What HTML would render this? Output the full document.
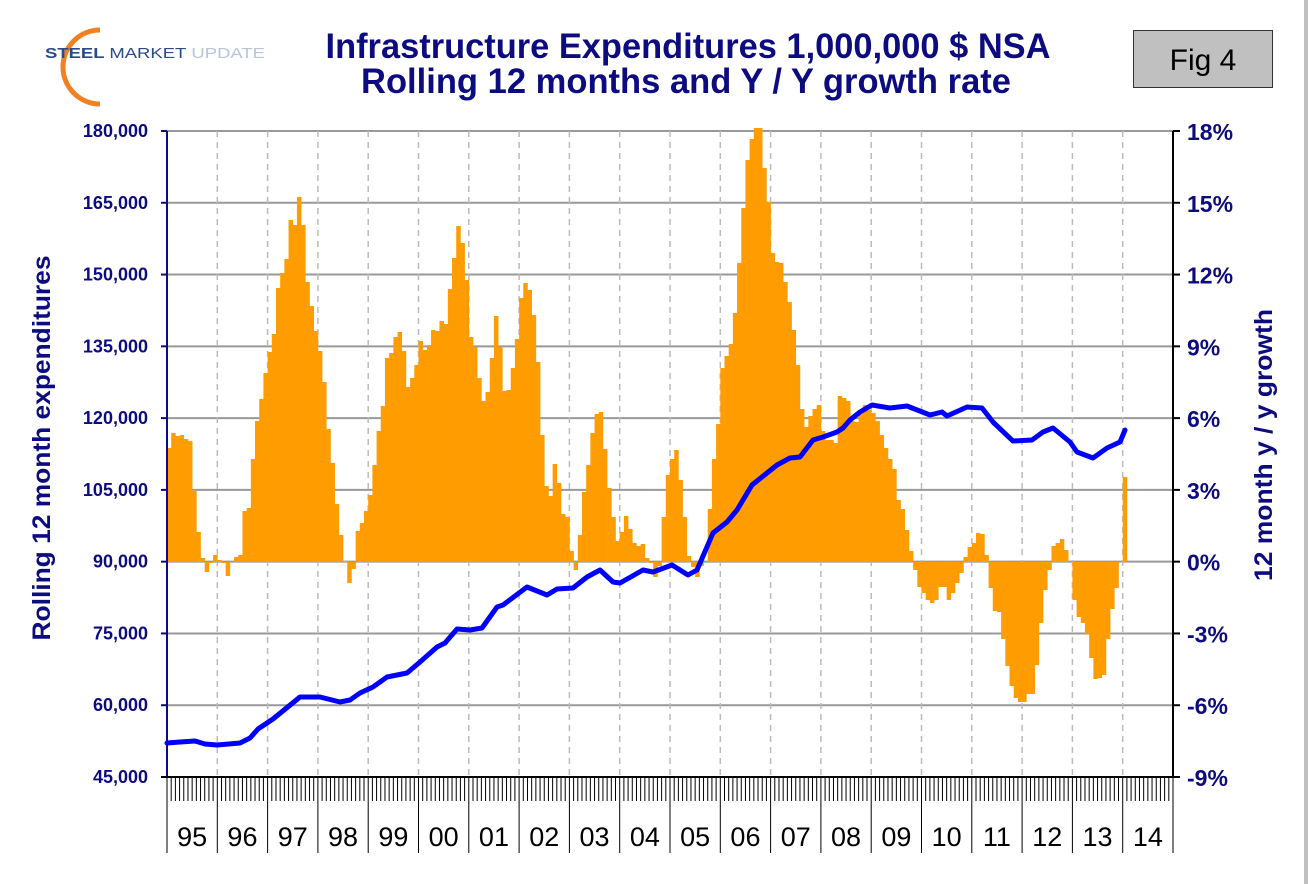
<!DOCTYPE html>
<html><head><meta charset="utf-8"><style>
html,body{margin:0;padding:0;background:#fff;}
svg{display:block;font-family:"Liberation Sans",Arial,sans-serif;}
</style></head><body>
<svg id="s" width="1308" height="884" viewBox="0 0 1308 884" xmlns="http://www.w3.org/2000/svg">
<rect x="0" y="0" width="1308" height="884" fill="#fff"/>
<rect x="1304" y="0" width="4" height="884" fill="#c0c0c0"/>
<path d="M100,30 A36,36 0 0 0 100,104" fill="none" stroke="#f08020" stroke-width="5"/>
<text x="45" y="58" font-size="15" font-weight="bold" fill="#2a4a8a" textLength="220" lengthAdjust="spacingAndGlyphs">STEEL <tspan font-weight="normal">MARKET</tspan> <tspan font-weight="normal" fill="#b8c4d8">UPDATE</tspan></text>
<text x="688" y="58" font-size="35" font-weight="bold" fill="#0c0c80" text-anchor="middle" textLength="725" lengthAdjust="spacingAndGlyphs">Infrastructure Expenditures 1,000,000 $ NSA</text>
<text x="686" y="93" font-size="35" font-weight="bold" fill="#0c0c80" text-anchor="middle" textLength="650" lengthAdjust="spacingAndGlyphs">Rolling 12 months and Y / Y growth rate</text>
<rect x="1133.5" y="30.5" width="139" height="57" fill="#c0c0c0" stroke="#333" stroke-width="1"/>
<text x="1203" y="70" font-size="30" fill="#000" text-anchor="middle">Fig 4</text>
<g id="grid"></g>
<g id="bars"></g>
<g id="axes"></g>
<polyline id="line" fill="none" stroke="#0000ff" stroke-width="5" stroke-linejoin="round" stroke-linecap="round"/>
<text transform="translate(50 448) rotate(-90)" font-size="25" font-weight="bold" fill="#0c0c80" text-anchor="middle" textLength="385" lengthAdjust="spacingAndGlyphs">Rolling 12 month expenditures</text>
<text transform="translate(1272 445) rotate(-90)" font-size="25" font-weight="bold" fill="#0c0c80" text-anchor="middle" textLength="272" lengthAdjust="spacingAndGlyphs">12 month y / y growth</text>
</svg>
<script>
var NS="http://www.w3.org/2000/svg";
function el(p,t,a,txt){var e=document.createElementNS(NS,t);for(var k in a)e.setAttribute(k,a[k]);if(txt!==undefined)e.textContent=txt;document.getElementById(p).appendChild(e);return e;}
var L=167,R=1173,T=131,B=777,base=562;
var yw=(R-L)/20, mw=yw/12;
var lv=["180,000","165,000","150,000","135,000","120,000","105,000","90,000","75,000","60,000","45,000"];
var rv=["18%","15%","12%","9%","6%","3%","0%","-3%","-6%","-9%"];
for(var i=0;i<10;i++){var y=T+i*(B-T)/9;
 if(i<9)el("grid","line",{x1:L,x2:R,y1:y,y2:y,stroke:"#999","stroke-width":2});
 el("axes","line",{x1:161,x2:L,y1:y,y2:y,stroke:"#0c0c80","stroke-width":2});
 el("axes","line",{x1:R,x2:1180,y1:y,y2:y,stroke:"#000","stroke-width":2});
 el("axes","text",{x:148,y:y+6,"font-size":18,"font-weight":"bold",fill:"#0c0c80","text-anchor":"end"},lv[i]);
 el("axes","text",{x:1187,y:y+9,"font-size":23,"font-weight":"bold",fill:"#0c0c80"},rv[i]);
}
for(var j=1;j<20;j++){var x=L+j*yw;el("grid","line",{x1:x,x2:x,y1:T,y2:B,stroke:"#bbb","stroke-width":1.5,"stroke-dasharray":"6,5"});}
var Y=[448,433,436,435,439,441,491,532,558,572,563,555,
560,563,576,562,557,555,511,508,459,421,399,373,
352,334,288,273,259,220,225,197,225,282,306,331,
351,382,429,463,504,535,561,583,569,531,523,511,
495,465,431,406,358,353,337,332,351,387,378,365,
341,350,345,330,331,321,324,289,258,226,243,280,
337,347,378,401,392,358,316,347,391,390,368,339,
298,283,290,315,362,435,486,496,464,483,514,517,
551,570,535,492,465,433,414,412,449,488,517,541,
532,516,529,543,546,544,558,563,577,566,517,475,
459,450,480,517,556,567,577,566,562,509,459,424,
368,356,344,313,263,208,160,139,128,128,168,202,
253,262,263,282,302,330,365,409,427,416,409,405,
431,440,440,443,396,398,401,421,422,413,405,410,
413,421,435,448,459,469,500,509,530,551,570,587,
593,600,603,600,587,587,600,593,583,573,557,547,
543,533,534,555,588,611,612,639,666,686,698,702,
702,694,694,665,623,590,570,546,543,539,550,562,
600,617,623,634,658,679,678,675,639,609,588,562,
477];
for(var k=0;k<Y.length;k++){var x=L+k*mw,y=Y[k];if(Math.abs(y-base)<1)continue;
 el("bars","rect",{x:x.toFixed(2),y:Math.min(y,base),width:(mw+0.3).toFixed(2),height:Math.abs(y-base),fill:"#ff9c00"});}
el("axes","line",{x1:L,x2:L,y1:T,y2:B,stroke:"#0c0c80","stroke-width":2});
el("axes","line",{x1:R,x2:R,y1:T,y2:B+1,stroke:"#000","stroke-width":2});
el("axes","line",{x1:L-6,x2:R,y1:B,y2:B,stroke:"#000","stroke-width":2});
for(var m=0;m<=240;m++){var x=L+m*mw;var maj=(m%12==0);
 el("axes","line",{x1:x,x2:x,y1:B,y2:maj?853:801,stroke:"#000","stroke-width":1});}
var yrs=["95","96","97","98","99","00","01","02","03","04","05","06","07","08","09","10","11","12","13","14"];
for(var j=0;j<20;j++)el("axes","text",{x:L+(j+0.5)*yw,y:846,"font-size":27,fill:"#000","text-anchor":"middle"},yrs[j]);
var P=[[167,743],[180,742],[195,741],[205,744],[217,745],[240,743],[250,738],[258,729],[273,719],[300,697],[320,697],[340,702],[350,700],[360,693],[373,687],[387,677],[407,673],[420,662],[437,647],[445,643],[457,629],[470,630],[482,628],[497,607],[503,605],[527,587],[547,595],[557,589],[573,588],[587,577],[600,570],[613,582],[620,583],[643,570],[653,572],[672,565],[688,575],[697,570],[713,533],[727,522],[737,510],[752,485],[767,473],[777,465],[790,458],[800,457],[813,440],[823,437],[837,432],[843,428],[850,420],[860,412],[872,405],[890,408],[907,406],[930,415],[942,412],[947,416],[967,407],[982,408],[993,422],[1013,441],[1032,440],[1043,432],[1053,428],[1070,442],[1077,452],[1093,458],[1107,448],[1120,442],[1125,430]];
document.getElementById("line").setAttribute("points",P.map(function(p){return p[0]+","+p[1];}).join(" "));
</script>
</body></html>
